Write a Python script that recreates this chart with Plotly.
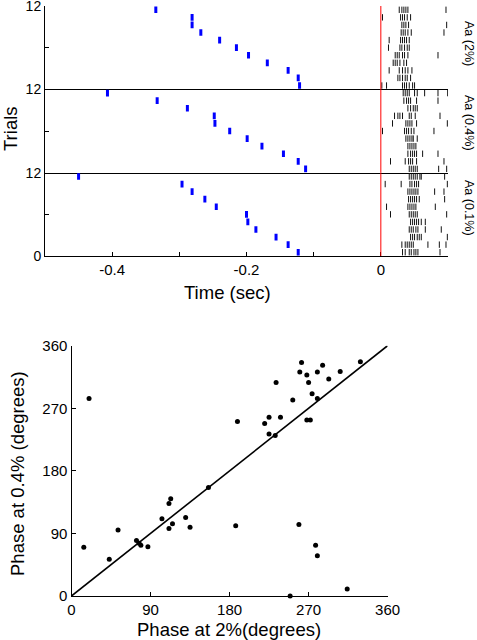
import plotly.graph_objects as go

W, H = 477, 640
FONT = "Liberation Sans, Arial, Helvetica, sans-serif"

# ---------------- data ----------------
# Blue event times (s), one per trial, listed from top trial to bottom trial
blue_2 = [-0.335, -0.281, -0.281, -0.268, -0.240, -0.215, -0.197, -0.169, -0.138, -0.123, -0.121]
blue_04 = [-0.407, -0.333, -0.288, -0.248, -0.247, -0.225, -0.199, -0.177, -0.145, -0.123, -0.112]
blue_01 = [-0.450, -0.296, -0.281, -0.262, -0.245, -0.200, -0.198, -0.186, -0.156, -0.138, -0.123]

# Spike times (ms) per trial, top trial to bottom trial
spikes_2 = [
    [27.4, 31.3, 34.3, 37.3, 40.3, 97.0],
    [2.5, 29.4, 32.3, 35.3, 39.3, 44.3],
    [31.3, 34.3, 37.3, 41.3, 98.0],
    [30.3, 33.3, 36.3, 40.3, 45.3, 94.0],
    [12.4, 29.4, 32.3, 35.3, 38.3, 42.3],
    [11.4, 28.4, 31.3, 35.3, 39.3, 42.3],
    [21.4, 24.4, 27.4, 32.3, 35.3, 40.3, 85.1],
    [18.4, 21.4, 24.4, 28.4, 34.3, 38.3],
    [12.4, 27.4, 32.3, 36.3, 40.3, 46.3],
    [25.4, 28.4, 32.3, 36.3, 39.3, 44.3],
    [1.5, 8.5, 32.3, 35.3, 38.3, 42.3, 47.3, 50.2],
]
spikes_04 = [
    [33.3, 36.3, 39.3, 42.3, 50.2, 54.2, 65.2, 85.1, 99.5],
    [34.3, 38.3, 41.3, 44.3, 53.2, 85.1],
    [40.3, 44.3, 48.3, 51.2, 54.2],
    [20.4, 25.4, 28.4, 32.3, 42.3, 45.3, 51.2, 88.1],
    [17.4, 37.3, 40.3, 43.3, 46.3, 53.2, 99.0],
    [2.5, 35.3, 38.3, 41.3, 45.3, 49.3, 79.1],
    [37.3, 40.3, 43.3, 46.3, 48.3, 54.2],
    [40.3, 43.3, 46.3, 49.3, 52.2],
    [40.3, 44.3, 47.3, 50.2, 53.2, 62.2, 85.1],
    [14.4, 36.3, 41.3, 44.3, 47.3, 53.2, 94.0],
    [42.3, 45.3, 48.3, 51.2, 54.2, 86.1, 98.0],
]
spikes_01 = [
    [42.3, 45.3, 48.3, 51.2, 54.2, 58.2, 60.2, 95.0],
    [6.5, 30.3, 43.3, 46.3, 50.2, 53.2, 56.2, 99.0],
    [40.3, 43.3, 46.3, 49.3, 52.2, 55.2, 80.1, 94.0],
    [41.3, 44.3, 47.3, 50.2, 53.2, 57.2, 95.0],
    [8.5, 40.3, 43.3, 46.3, 49.3, 52.2, 81.1],
    [14.4, 42.3, 45.3, 48.3, 51.2, 54.2, 98.0],
    [44.3, 47.3, 50.2, 53.2, 56.2, 60.2, 66.2],
    [42.3, 45.3, 48.3, 52.2, 55.2, 66.2, 90.0],
    [44.3, 47.3, 50.2, 54.2, 57.2, 60.2, 99.0],
    [31.3, 36.3, 39.3, 42.3, 45.3, 48.3, 70.1, 87.1, 97.0],
    [32.3, 36.3, 42.3, 45.3, 49.3, 52.2, 55.2, 88.1],
]

panel_labels = ["Aa (2%)", "Aa (0.4%)", "Aa (0.1%)"]
time_ticks = [-0.5, -0.4, -0.3, -0.2, -0.1, 0.0, 0.1]
time_ticktext = ["", "-0.4", "", "-0.2", "", "0", ""]

# Phase scatter (degrees)
phase_2 = [20, 14, 43, 53, 74, 77, 79, 87, 103, 111, 113, 111, 115, 130, 135, 156,
           187, 189, 220, 225, 225, 232, 238, 233, 252, 260, 262, 268, 270, 274, 280,
           268, 272, 280, 286, 293, 306, 329, 259, 278, 280, 314, 249]
phase_04 = [284, 70, 53, 95, 80, 76, 73, 71, 111, 133, 140, 97, 104, 113, 99, 156,
            101, 251, 248, 257, 233, 231, 257, 307, 282, 322, 336, 318, 307, 291, 284,
            253, 253, 322, 332, 312, 323, 337, 103, 73, 58, 10, 0]
unity = [0, 360]
phase_ticks = [0, 90, 180, 270, 360]

# ---------------- figure ----------------
fig = go.Figure()

# panel pixel boundaries (top, bottom)
tops = [6, 89.3, 172.7]
bots = [89.3, 172.7, 256]
x_dom = [45 / W, 448 / W]

blues = [blue_2, blue_04, blue_01]
spikes = [spikes_2, spikes_04, spikes_01]
label_y = [43, 123, 208]

for p in range(3):
    ax = "" if p == 0 else str(p + 1)
    n = len(blues[p])
    bx, by = [], []
    for i, t in enumerate(blues[p]):
        yy = n - 1 - i
        bx += [t, t, None]
        by += [yy - 0.44, yy + 0.44, None]
    sx, sy = [], []
    for i, row in enumerate(spikes[p]):
        yy = n - 1 - i
        for ms in row:
            sx += [ms / 1000.0, ms / 1000.0, None]
            sy += [yy - 0.42, yy + 0.42, None]
    fig.add_trace(go.Scatter(x=sx, y=sy, mode="lines", line=dict(color="#111111", width=1),
                             xaxis="x" + ax, yaxis="y" + ax, showlegend=False, hoverinfo="skip"))
    fig.add_trace(go.Scatter(x=bx, y=by, mode="lines", line=dict(color="#0000ff", width=3),
                             xaxis="x" + ax, yaxis="y" + ax, showlegend=False, hoverinfo="skip"))
    fig.add_shape(type="line", xref="x" + ax, yref="y" + ax + " domain", x0=0, x1=0, y0=0, y1=1,
                  line=dict(color="red", width=1))
    last = p == 2
    fig.update_layout(**{
        "xaxis" + ax: dict(domain=x_dom, range=[-0.5, 0.1], anchor="y" + ax,
                           showline=True, linecolor="black", linewidth=1.3,
                           showgrid=False, zeroline=False, automargin=False,
                           ticks="inside" if last else "", ticklen=4, tickcolor="black",
                           tickvals=time_ticks, ticktext=time_ticktext,
                           showticklabels=last, ticklabeloverflow="allow",
                           tickfont=dict(family=FONT, size=15, color="black")),
        "yaxis" + ax: dict(domain=[1 - bots[p] / H, 1 - tops[p] / H], range=[-0.5, n - 0.5],
                           anchor="x" + ax, showline=True, linecolor="black", linewidth=1,
                           showgrid=False, zeroline=False, ticks="inside", ticklen=4,
                           tickcolor="black", automargin=False, ticklabeloverflow="allow",
                           tickvals=[-0.5, (n - 1) / 2, n - 0.5],
                           ticktext=["0" if last else "", "", "12"],
                           tickfont=dict(family=FONT, size=14, color="black")),
    })
    fig.add_annotation(text=panel_labels[p], xref="paper", yref="paper", x=469 / W,
                       y=1 - label_y[p] / H, showarrow=False, textangle=90,
                       xanchor="center", yanchor="middle",
                       font=dict(family=FONT, size=12.5, color="black"))

# scatter
fig.add_trace(go.Scatter(x=unity, y=unity, mode="lines", line=dict(color="black", width=1.6),
                         xaxis="x4", yaxis="y4", showlegend=False, hoverinfo="skip"))
fig.add_trace(go.Scatter(x=phase_2, y=phase_04, mode="markers",
                         marker=dict(color="black", size=5), cliponaxis=False,
                         xaxis="x4", yaxis="y4", showlegend=False))
fig.update_layout(
    xaxis4=dict(domain=[71.5 / W, 387.6 / W], range=[0, 360], anchor="y4", automargin=False,
                showline=True, linecolor="black", linewidth=1.3, showgrid=False, zeroline=False,
                ticks="inside", ticklen=4, tickcolor="black", tickvals=phase_ticks,
                ticklabeloverflow="allow",
                tickfont=dict(family=FONT, size=15, color="black")),
    yaxis4=dict(domain=[1 - 596 / H, 1 - 345.7 / H], range=[0, 360], anchor="x4", automargin=False,
                showline=True, linecolor="black", linewidth=1.3, showgrid=False, zeroline=False,
                ticks="inside", ticklen=4, tickcolor="black", tickvals=phase_ticks,
                ticklabeloverflow="allow",
                tickfont=dict(family=FONT, size=15, color="black")),
)

def ann(text, px, py, size, angle=0):
    fig.add_annotation(text=text, xref="paper", yref="paper", x=px / W, y=1 - py / H,
                       showarrow=False, textangle=angle, xanchor="center", yanchor="middle",
                       font=dict(family=FONT, size=size, color="black"))

ann("Trials", 10, 129, 18.5, -90)
ann("Time (sec)", 227, 292, 18.5)
ann("Phase at 0.4% (degrees)", 17, 474, 18.5, -90)
ann("Phase at 2%(degrees)", 229, 629, 18.5)

fig.update_layout(width=W, height=H, autosize=False,
                  margin=dict(l=0, r=0, t=0, b=0, pad=0, autoexpand=False),
                  paper_bgcolor="white", plot_bgcolor="white",
                  font=dict(family=FONT, color="black"))

# remove the browser's default 8px page margin so the figure sits at (0, 0)
fig.write_html("out.html", config={"displayModeBar": False},
               post_script="document.body.style.margin='0';document.body.style.overflow='hidden';")
